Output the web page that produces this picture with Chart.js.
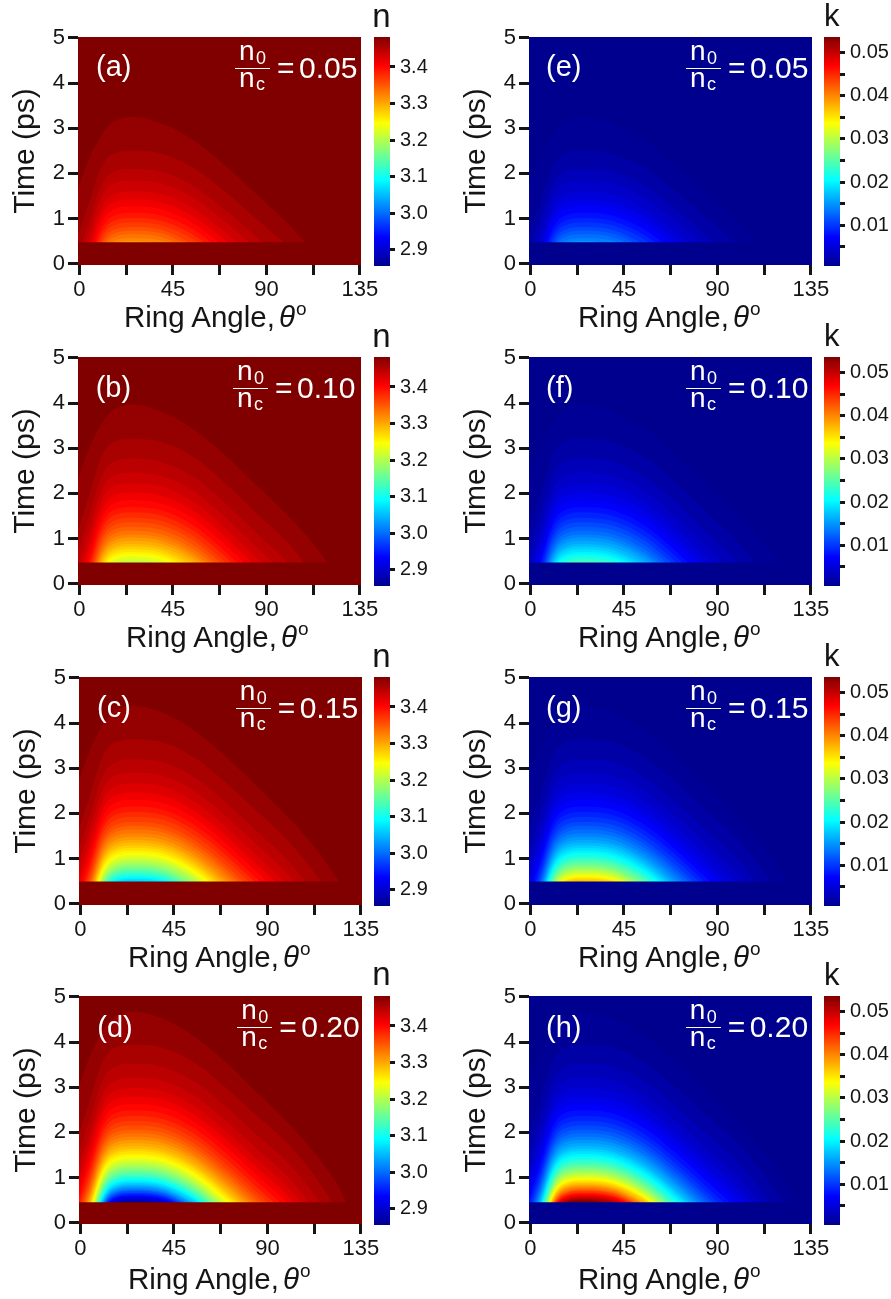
<!DOCTYPE html>
<html>
<head>
<meta charset="utf-8">
<script src="https://cdn.jsdelivr.net/npm/chart.js@4"></script>
<style>
  html, body { margin: 0; padding: 0; background: #fff; }
  #page { position: relative; width: 891px; height: 1299px; overflow: hidden; font-family: "Liberation Sans", Arial, sans-serif; }
  #page canvas { position: absolute; display: block; }
  .txt { position: absolute; white-space: nowrap; line-height: 1; }
</style>
</head>
<body>
<div id="page"></div>
<script>
// axis ticks
var xTicks = [0, 22.5, 45, 67.5, 90, 112.5, 135];
var xTickLabels = [0, 45, 90, 135];
var yTicks = [0, 1, 2, 3, 4, 5];
var nTicks = [2.9, 3.0, 3.1, 3.2, 3.3, 3.4];
var kTicks = [0.005, 0.01, 0.015, 0.02, 0.025, 0.03, 0.035, 0.04, 0.045, 0.05];
var kTickLabels = [0.01, 0.02, 0.03, 0.04, 0.05];
var nRange = [2.856, 3.482];
var kRange = [0.0006, 0.0536];

// contour values, n panels and k panels use the same contour lines
var nLevels = [3.469, 3.457, 3.446, 3.435, 3.424, 3.412, 3.401, 3.39, 3.378, 3.367, 3.356, 3.344, 3.333, 3.322, 3.31, 3.299, 3.288, 3.277,
  3.265, 3.254, 3.243, 3.231, 3.22, 3.209, 3.198, 3.186, 3.175, 3.164, 3.152, 3.141, 3.13, 3.118, 3.107, 3.096, 3.085, 3.073, 3.062, 3.051,
  3.039, 3.028, 3.017, 3.005, 2.994, 2.983, 2.972, 2.96, 2.949, 2.938, 2.926, 2.915, 2.904, 2.892, 2.881, 2.87];
var kLevels = [0.001, 0.002, 0.003, 0.004, 0.005, 0.006, 0.007, 0.008, 0.009, 0.01, 0.011, 0.012, 0.013, 0.014, 0.015, 0.016, 0.017, 0.018,
  0.019, 0.02, 0.021, 0.022, 0.023, 0.024, 0.025, 0.026, 0.027, 0.028, 0.029, 0.03, 0.031, 0.032, 0.033, 0.034, 0.035, 0.036, 0.037, 0.038,
  0.039, 0.04, 0.041, 0.042, 0.043, 0.044, 0.045, 0.046, 0.047, 0.048, 0.049, 0.05, 0.051, 0.052, 0.053, 0.054];

// angle of each sample in the contour lists below
var angles = [-1, 5, 10, 15, 26, 40, 55, 70, 85, 100, 115, 125, 136];

// time where the pump starts in each row
var startTimes = [0.475, 0.47, 0.49, 0.45];

// n0/nc = 0.05, time (ps) of each contour at the angles above
var contours005 = [
  [1.65,2.36,2.8,3.1,3.25,3.1,2.73,2.18,1.55,0.9,0.15],
  [0.6,1.4,2.08,2.4,2.5,2.43,2.12,1.6,1.0,0.4],
  [0.2,1.0,1.68,2.0,2.1,2.03,1.72,1.2,0.6,0],
  [-0.06,0.74,1.42,1.74,1.84,1.77,1.46,0.94,0.34],
  [-0.3,0.5,1.18,1.5,1.6,1.53,1.22,0.7,0.1],
  [-0.48,0.32,1.0,1.32,1.42,1.35,1.04,0.52,-0.08],
  [-0.63,0.17,0.85,1.17,1.27,1.2,0.89,0.37],
  [-0.77,0.03,0.71,1.03,1.13,1.06,0.75,0.23],
  [-0.89,-0.09,0.59,0.91,1.01,0.94,0.63,0.11],
  [-0.99,-0.19,0.49,0.81,0.91,0.84,0.53,0.01],
  [-1,-0.29,0.39,0.71,0.81,0.74,0.43],
  [-1,-0.37,0.31,0.63,0.73,0.66,0.35],
  [-1,-0.46,0.23,0.55,0.65,0.58,0.27],
  [-1,-0.53,0.15,0.47,0.57,0.5,0.19],
  [-1,-0.6,0.08,0.4,0.5,0.43]
];

// n0/nc = 0.10
var contours010 = [
  [2.3,3.03,3.49,3.8,3.96,3.8,3.42,2.85,2.19,1.52,0.74,0.06],
  [1.14,2.01,2.75,3.1,3.21,3.13,2.8,2.23,1.57,0.92,0.05],
  [0.7,1.57,2.31,2.66,2.77,2.69,2.36,1.79,1.13,0.48,-0.39],
  [0.39,1.26,2.0,2.35,2.46,2.38,2.05,1.48,0.82,0.17],
  [0.15,1.02,1.76,2.11,2.22,2.14,1.81,1.24,0.58,-0.07],
  [-0.05,0.82,1.56,1.91,2.02,1.94,1.61,1.04,0.38],
  [-0.22,0.65,1.39,1.74,1.85,1.77,1.44,0.87,0.21],
  [-0.37,0.5,1.24,1.59,1.7,1.62,1.29,0.72,0.06],
  [-0.5,0.38,1.12,1.47,1.58,1.5,1.17,0.6,-0.06],
  [-0.61,0.26,1.0,1.35,1.46,1.38,1.05,0.48,-0.18],
  [-0.71,0.16,0.9,1.25,1.36,1.28,0.95,0.38],
  [-0.81,0.06,0.8,1.15,1.26,1.18,0.85,0.28],
  [-0.9,-0.03,0.71,1.06,1.17,1.09,0.76,0.19],
  [-0.98,-0.11,0.63,0.98,1.09,1.01,0.68,0.11],
  [-1,-0.18,0.56,0.91,1.02,0.94,0.61,0.04],
  [-1,-0.25,0.49,0.84,0.95,0.87,0.54,-0.03],
  [-1,-0.32,0.42,0.77,0.88,0.8,0.47,-0.1],
  [-1,-0.38,0.36,0.71,0.82,0.74,0.41],
  [-1,-0.44,0.3,0.65,0.76,0.68,0.35],
  [-1,-0.5,0.24,0.59,0.7,0.62,0.29],
  [-1,-0.55,0.19,0.54,0.65,0.57,0.24],
  [-1,-0.6,0.14,0.49,0.6,0.52,0.19],
  [-1,-0.65,0.09,0.44,0.55,0.47,0.14],
  [-1,-0.69,0.05,0.4,0.51,0.43]
];

// n0/nc = 0.15
var contours015 = [
  [2.7,3.45,3.91,4.22,4.38,4.22,3.83,3.26,2.59,1.91,1.12,0.44],
  [1.61,2.46,3.19,3.53,3.64,3.57,3.23,2.68,2.04,1.39,0.54,-0.21],
  [1.17,2.02,2.75,3.09,3.2,3.13,2.79,2.24,1.6,0.95,0.1],
  [0.87,1.72,2.45,2.79,2.9,2.83,2.49,1.94,1.3,0.65,-0.2],
  [0.63,1.48,2.21,2.55,2.66,2.59,2.25,1.7,1.06,0.41],
  [0.43,1.28,2.01,2.35,2.46,2.39,2.05,1.5,0.86,0.21],
  [0.27,1.12,1.85,2.19,2.3,2.23,1.89,1.34,0.7,0.05],
  [0.12,0.97,1.7,2.04,2.15,2.08,1.74,1.19,0.55,-0.1],
  [0,0.85,1.58,1.92,2.03,1.96,1.62,1.07,0.43],
  [-0.11,0.74,1.47,1.81,1.92,1.85,1.51,0.96,0.32],
  [-0.22,0.63,1.36,1.7,1.81,1.74,1.4,0.85,0.21],
  [-0.31,0.54,1.27,1.61,1.72,1.65,1.31,0.76,0.12],
  [-0.4,0.46,1.19,1.53,1.64,1.57,1.23,0.68,0.04],
  [-0.47,0.38,1.11,1.45,1.56,1.49,1.15,0.6,-0.04],
  [-0.55,0.3,1.03,1.37,1.48,1.41,1.07,0.52,-0.12],
  [-0.62,0.23,0.96,1.3,1.41,1.34,1.0,0.45],
  [-0.68,0.17,0.9,1.24,1.35,1.28,0.94,0.39],
  [-0.74,0.11,0.84,1.18,1.29,1.22,0.88,0.33],
  [-0.8,0.05,0.78,1.12,1.23,1.16,0.82,0.27],
  [-0.86,-0.01,0.72,1.06,1.17,1.1,0.76,0.21],
  [-0.91,-0.06,0.67,1.01,1.12,1.05,0.71,0.16],
  [-0.96,-0.11,0.62,0.96,1.07,1.0,0.66,0.11],
  [-1,-0.16,0.57,0.91,1.02,0.95,0.61,0.06],
  [-1,-0.2,0.53,0.87,0.98,0.91,0.57,0.02],
  [-1,-0.25,0.49,0.83,0.94,0.87,0.53,-0.03],
  [-1,-0.29,0.44,0.78,0.89,0.82,0.48,-0.07],
  [-1,-0.33,0.4,0.74,0.85,0.78,0.44],
  [-1,-0.37,0.36,0.7,0.81,0.74,0.4],
  [-1,-0.4,0.33,0.67,0.78,0.71,0.37],
  [-1,-0.44,0.29,0.63,0.74,0.67,0.33],
  [-1,-0.48,0.26,0.6,0.71,0.64,0.3],
  [-1,-0.51,0.22,0.56,0.67,0.6,0.26],
  [-1,-0.54,0.19,0.53,0.64,0.57,0.23],
  [-1,-0.57,0.16,0.5,0.61,0.54,0.2],
  [-1,-0.61,0.13,0.47,0.58,0.51,0.17],
  [-1,-0.63,0.1,0.44,0.55,0.48,0.14],
  [-1,-0.67,0.07,0.41,0.52,0.45]
];

// n0/nc = 0.20
var contours020 = [
  [2.99,3.74,4.2,4.51,4.67,4.51,4.12,3.55,2.88,2.2,1.41,0.73,-0.48],
  [1.94,2.78,3.5,3.84,3.94,3.87,3.54,2.99,2.36,1.74,0.89,0.16],
  [1.52,2.36,3.08,3.42,3.52,3.45,3.12,2.57,1.94,1.32,0.47,-0.26],
  [1.21,2.05,2.77,3.11,3.21,3.14,2.81,2.26,1.63,1.01,0.16],
  [0.98,1.82,2.54,2.88,2.98,2.91,2.58,2.03,1.4,0.78,-0.07],
  [0.79,1.63,2.35,2.69,2.79,2.72,2.39,1.84,1.21,0.59,-0.26],
  [0.63,1.47,2.19,2.53,2.63,2.56,2.23,1.68,1.05,0.43],
  [0.49,1.33,2.05,2.39,2.49,2.42,2.09,1.54,0.91,0.29],
  [0.36,1.2,1.92,2.26,2.36,2.29,1.96,1.41,0.78,0.16],
  [0.25,1.09,1.81,2.15,2.25,2.18,1.85,1.3,0.67,0.05],
  [0.15,0.99,1.71,2.05,2.15,2.08,1.75,1.2,0.57,-0.05],
  [0.06,0.9,1.62,1.96,2.06,1.99,1.66,1.11,0.48,-0.14],
  [-0.02,0.82,1.54,1.88,1.98,1.91,1.58,1.03,0.4],
  [-0.1,0.74,1.46,1.8,1.9,1.83,1.5,0.95,0.32],
  [-0.17,0.67,1.39,1.73,1.83,1.76,1.43,0.88,0.25],
  [-0.24,0.6,1.32,1.66,1.76,1.69,1.36,0.81,0.18],
  [-0.31,0.53,1.25,1.59,1.69,1.62,1.29,0.74,0.11],
  [-0.37,0.47,1.19,1.53,1.63,1.56,1.23,0.68,0.05],
  [-0.42,0.42,1.14,1.48,1.58,1.51,1.18,0.63,0],
  [-0.48,0.36,1.08,1.42,1.52,1.45,1.12,0.57,-0.06],
  [-0.53,0.31,1.03,1.37,1.47,1.4,1.07,0.52,-0.11],
  [-0.58,0.26,0.98,1.32,1.42,1.35,1.02,0.47,-0.16],
  [-0.62,0.22,0.94,1.28,1.38,1.31,0.98,0.43],
  [-0.67,0.17,0.89,1.23,1.33,1.26,0.93,0.38],
  [-0.71,0.13,0.85,1.19,1.29,1.22,0.89,0.34],
  [-0.75,0.09,0.81,1.15,1.25,1.18,0.85,0.3],
  [-0.79,0.05,0.77,1.11,1.21,1.14,0.81,0.26],
  [-0.83,0.01,0.73,1.07,1.17,1.1,0.77,0.22],
  [-0.87,-0.03,0.69,1.03,1.13,1.06,0.73,0.18],
  [-0.9,-0.06,0.66,1.0,1.1,1.03,0.7,0.15],
  [-0.94,-0.1,0.62,0.96,1.06,0.99,0.66,0.11],
  [-0.97,-0.13,0.59,0.93,1.03,0.96,0.63,0.08],
  [-1,-0.16,0.56,0.9,1.0,0.93,0.6,0.05],
  [-1,-0.19,0.53,0.87,0.97,0.9,0.57,0.02],
  [-1,-0.22,0.5,0.84,0.94,0.87,0.54,-0.01],
  [-1,-0.25,0.47,0.81,0.91,0.84,0.51,-0.04],
  [-1,-0.28,0.44,0.78,0.88,0.81,0.48,-0.07],
  [-1,-0.31,0.41,0.75,0.85,0.78,0.45],
  [-1,-0.34,0.38,0.72,0.82,0.75,0.42],
  [-1,-0.36,0.36,0.7,0.8,0.73,0.4],
  [-1,-0.39,0.33,0.67,0.77,0.7,0.37],
  [-1,-0.42,0.3,0.64,0.74,0.67,0.34],
  [-1,-0.44,0.28,0.62,0.72,0.65,0.32],
  [-1,-0.46,0.26,0.6,0.7,0.63,0.3],
  [-1,-0.49,0.23,0.57,0.67,0.6,0.27],
  [-1,-0.51,0.21,0.55,0.65,0.58,0.25],
  [-1,-0.53,0.19,0.53,0.63,0.56,0.23],
  [-1,-0.56,0.16,0.5,0.6,0.53,0.2],
  [-1,-0.58,0.14,0.48,0.58,0.51,0.18],
  [-1,-0.6,0.12,0.46,0.56,0.49,0.16],
  [-1,-0.62,0.1,0.44,0.54,0.47,0.14],
  [-1,-0.64,0.08,0.42,0.52,0.45],
  [-1,-0.66,0.06,0.4,0.5,0.43],
  [-1,-0.68,0.04,0.38,0.48,0.41]
];

var rowContours = [contours005, contours010, contours015, contours020];
var ratioLabels = ['0.05', '0.10', '0.15', '0.20'];
var tagsLeft = ['(a)', '(b)', '(c)', '(d)'];
var tagsRight = ['(e)', '(f)', '(g)', '(h)'];

// page layout
var rowBoxes = [
  { top: 37, bottom: 264.5, title: 327, tag: 77, rule: 67.7, symbol: 26.7 },
  { top: 356.7, bottom: 584, title: 647, tag: 398, rule: 387.7, symbol: 346.7 },
  { top: 676.7, bottom: 904, title: 967, tag: 718, rule: 707.7, symbol: 666.7 },
  { top: 996, bottom: 1224, title: 1289, tag: 1038, rule: 1026.7, symbol: 985 }
];
var leftCols = [78, 77.7, 79, 79.3];
var rightCols = [529, 529, 529, 529];
var titleLefts = [124, 126, 128, 128, 578, 578, 578, 578];
var ruleLefts = [235, 233, 235.7, 237.3, 686, 686, 686, 685.7];
var plotWidth = 283;

var jetStops = [[0, 0, 0, 143], [0.125, 0, 0, 255], [0.375, 0, 255, 255], [0.625, 255, 255, 0], [0.875, 255, 0, 0], [1, 128, 0, 0]];
var inkColor = '#151515';
var fontName = '"Liberation Sans", Arial, sans-serif';

Chart.defaults.font.family = fontName;
Chart.defaults.animation = false;

var page = document.getElementById('page');

function jet(f) {
  f = Math.max(0, Math.min(1, f));
  for (var i = 1; i < jetStops.length; i++) {
    if (f <= jetStops[i][0]) {
      var a = jetStops[i - 1], b = jetStops[i];
      var u = (f - a[0]) / (b[0] - a[0]);
      return 'rgb(' + Math.round(a[1] + u * (b[1] - a[1])) + ',' + Math.round(a[2] + u * (b[2] - a[2])) + ',' + Math.round(a[3] + u * (b[3] - a[3])) + ')';
    }
  }
}

function addText(html, x, baseline, size, color, center) {
  var d = document.createElement('div');
  d.className = 'txt';
  d.innerHTML = html;
  d.style.left = x + 'px';
  d.style.top = (baseline - 0.8465 * size) + 'px';
  d.style.fontSize = size + 'px';
  d.style.color = color;
  if (center) d.style.transform = 'translateX(-50%)';
  page.appendChild(d);
}

function addCanvas(left, top, width, height) {
  var c = document.createElement('canvas');
  c.width = Math.ceil(width);
  c.height = Math.ceil(height);
  c.style.left = left + 'px';
  c.style.top = top + 'px';
  page.appendChild(c);
  return c;
}

// keep the plot box exactly where the layout says
function fixBox(size) {
  return function (scale) {
    if (scale.isHorizontal()) scale.height = size; else scale.width = size;
    scale.paddingLeft = scale.paddingRight = scale.paddingTop = scale.paddingBottom = 0;
  };
}

function flatBand(y, color) {
  return {
    data: [{ x: -1, y: y }, { x: 136, y: y }],
    fill: { value: -1 }, backgroundColor: color, borderColor: 'transparent', borderWidth: 0, pointRadius: 0
  };
}

function drawPanel(box, left, curves, levels, range, startTime, edgeColor) {
  var datasets = [flatBand(startTime, edgeColor)];
  for (var i = curves.length - 1; i >= 0; i--) {
    var f = (levels[i] - range[0]) / (range[1] - range[0]);
    datasets.push({
      data: curves[i].map(function (t, j) { return { x: angles[j], y: t }; }),
      fill: { value: -1 },
      backgroundColor: jet(f),
      borderColor: 'transparent',
      borderWidth: 0,
      pointRadius: 0,
      cubicInterpolationMode: 'monotone'
    });
  }
  datasets.push(flatBand(5.2, edgeColor));

  var height = box.bottom - box.top;
  var canvas = addCanvas(left - 78, box.top - 14, 78 + plotWidth + 24, height + 14 + 44);
  new Chart(canvas, {
    type: 'line',
    data: { datasets: datasets },
    options: {
      responsive: false,
      layout: { padding: { top: 14, right: 24, left: 0, bottom: 0 } },
      plugins: { legend: { display: false }, tooltip: { enabled: false } },
      scales: {
        x: {
          type: 'linear', min: -0.7, max: 135.5,
          afterBuildTicks: function (s) { s.ticks = xTicks.map(function (v) { return { value: v }; }); },
          afterFit: fixBox(44),
          border: { display: false },
          grid: { drawOnChartArea: false, tickLength: 10, tickWidth: 3, tickColor: inkColor },
          ticks: {
            maxRotation: 0, autoSkip: false, padding: 2, color: inkColor, font: { size: 22 },
            callback: function (v) { return xTickLabels.indexOf(v) >= 0 ? String(v) : ''; }
          }
        },
        y: {
          type: 'linear', min: -0.03, max: 5.02,
          afterBuildTicks: function (s) { s.ticks = yTicks.map(function (v) { return { value: v }; }); },
          afterFit: fixBox(78),
          border: { display: false },
          title: { display: true, text: 'Time (ps)', color: inkColor, font: { size: 30 }, padding: { top: 8, bottom: 0 } },
          grid: { drawOnChartArea: false, tickLength: 10, tickWidth: 3, tickColor: inkColor },
          ticks: { autoSkip: false, padding: 3, color: inkColor, font: { size: 22 } }
        }
      }
    }
  });
}

function drawColorBar(box, left, range, ticks, labels, digits) {
  var height = box.bottom + 1 - box.top;
  var canvas = addCanvas(left, box.top - 14, 16 + 60, height + 28);
  new Chart(canvas, {
    type: 'bar',
    data: {
      labels: [''],
      datasets: [{
        data: [range],
        barPercentage: 1,
        categoryPercentage: 1,
        backgroundColor: function (c) {
          var area = c.chart.chartArea;
          if (!area) return jet(0.5);
          var g = c.chart.ctx.createLinearGradient(0, area.bottom, 0, area.top);
          jetStops.forEach(function (s) { g.addColorStop(s[0], jet(s[0])); });
          return g;
        }
      }]
    },
    options: {
      responsive: false,
      layout: { padding: { top: 14, bottom: 14, left: 0, right: 0 } },
      plugins: { legend: { display: false }, tooltip: { enabled: false } },
      scales: {
        x: { display: false },
        y: {
          position: 'right', min: range[0], max: range[1],
          afterBuildTicks: function (s) { s.ticks = ticks.map(function (v) { return { value: v }; }); },
          afterFit: fixBox(60),
          border: { display: false },
          grid: { drawOnChartArea: false, tickLength: 5, tickWidth: 3, tickColor: inkColor },
          ticks: {
            autoSkip: false, padding: 5, color: inkColor, font: { size: 20 },
            callback: function (v) { return labels.indexOf(v) >= 0 ? v.toFixed(digits) : ''; }
          }
        }
      }
    }
  });
}

function addRatio(ruleLeft, ruleY, value) {
  var rule = document.createElement('div');
  rule.style.cssText = 'position:absolute;background:#fff;height:1.5px;width:35px;left:' + ruleLeft + 'px;top:' + ruleY + 'px';
  page.appendChild(rule);
  addText('n', ruleLeft + 4, ruleY - 6.5, 28, '#fff');
  addText('0', ruleLeft + 21, ruleY - 3.5, 18, '#fff');
  addText('n', ruleLeft + 4, ruleY + 20, 28, '#fff');
  addText('c', ruleLeft + 21, ruleY + 22.5, 18, '#fff');
  addText('=', ruleLeft + 42, ruleY + 10.5, 30, '#fff');
  addText(value, ruleLeft + 64, ruleY + 10.5, 30, '#fff');
}

function addAxisTitle(x, baseline) {
  addText('Ring Angle,<i style="margin-left:4px">&theta;</i><span style="font-size:19px;position:relative;top:-12px;margin-left:1px">o</span>',
    x, baseline, 29.5, inkColor);
}

rowBoxes.forEach(function (box, r) {
  var curves = rowContours[r];

  // left column: refractive index n
  drawPanel(box, leftCols[r], curves, nLevels, nRange, startTimes[r], jet(1));
  drawColorBar(box, 373.7, nRange, nTicks, nTicks, 1);
  addText('n', 381.5, box.symbol, 33, inkColor, true);
  addText(tagsLeft[r], leftCols[r] + 18, box.tag, 29, '#fff');
  addRatio(ruleLefts[r], box.rule, ratioLabels[r]);
  addAxisTitle(titleLefts[r], box.title);

  // right column: extinction coefficient k
  drawPanel(box, rightCols[r], curves, kLevels, kRange, startTimes[r], jet(0));
  drawColorBar(box, 824, kRange, kTicks, kTickLabels, 2);
  addText('k', 831.7, box.symbol, 31, inkColor, true);
  addText(tagsRight[r], rightCols[r] + 17, box.tag, 29, '#fff');
  addRatio(ruleLefts[r + 4], box.rule, ratioLabels[r]);
  addAxisTitle(titleLefts[r + 4], box.title);
});
</script>
</body>
</html>
